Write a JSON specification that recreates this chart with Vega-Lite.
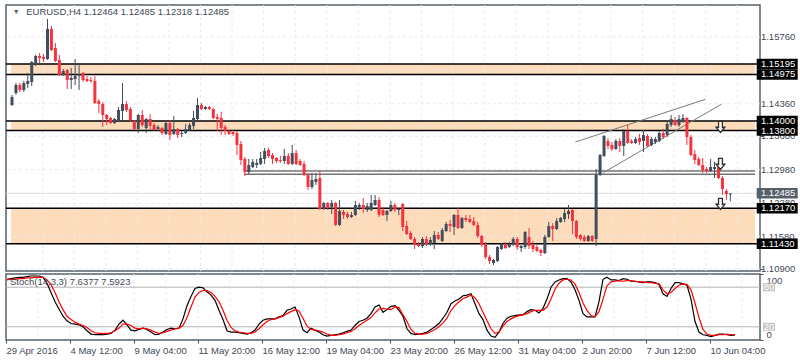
{
"$schema": "https://vega.github.io/schema/vega-lite/v6.json",
"padding": {"left": 3, "top": 3, "right": 0, "bottom": 0},
"background": "white",
"spacing": 3,
"bounds": "flush",
"config": {
  "view": {"stroke": "#56606b", "strokeWidth": 1.5},
  "font": "Liberation Sans",
  "axis": {"labelFont": "Liberation Sans", "labelFontSize": 9.5, "labelColor": "#3f4955", "tickColor": "#3f4955", "domain": false, "grid": false, "tickSize": 3, "labelOverlap": false, "labelSeparation": 0}
},
"datasets": {
  "zones": [{"lo": 1.14975, "hi": 1.15195}, {"lo": 1.138, "hi": 1.14}, {"lo": 1.1143, "hi": 1.1217}],
  "hgrid": [{"v": 1.109}, {"v": 1.1158}, {"v": 1.1228}, {"v": 1.1298}, {"v": 1.1368}, {"v": 1.1436}, {"v": 1.1506}, {"v": 1.1576}],
  "ylabels": [{"v": 1.109}, {"v": 1.1158}, {"v": 1.1228}, {"v": 1.1298}, {"v": 1.1368}, {"v": 1.1436}, {"v": 1.1576}],
  "vgrid": [{"g": 7.75}, {"g": 15.75}, {"g": 23.75}, {"g": 31.75}, {"g": 39.75}, {"g": 47.75}, {"g": 55.75}, {"g": 63.75}, {"g": 71.75}, {"g": 79.75}, {"g": 87.75}, {"g": 95.75}, {"g": 103.75}, {"g": 111.75}, {"g": 119.75}, {"g": 127.75}, {"g": 135.75}, {"g": 143.75}, {"g": 151.75}, {"g": 159.75}, {"g": 167.75}, {"g": 175.75}, {"g": 183.75}],
  "hlines": [{"p": 1.12953, "s": 58.8}, {"p": 1.12883, "s": 58.8}],
  "trend": [{"x1": 142.75, "y1": 1.1356, "x2": 175.7, "y2": 1.14455}, {"x1": 149.8, "y1": 1.12917, "x2": 179.7, "y2": 1.1435}],
  "arrows": [{"i": 179.5, "p": 1.13875}, {"i": 179.5, "p": 1.131}, {"i": 179.5, "p": 1.12262}],
  "boxes": [{"p": 1.15195, "t": "1.15195"}, {"p": 1.14975, "t": "1.14975"}, {"p": 1.14, "t": "1.14000"}, {"p": 1.138, "t": "1.13800"}, {"p": 1.1217, "t": "1.12170"}, {"p": 1.1143, "t": "1.11430"}],
  "current": [{"p": 1.12485, "t": "1.12485"}],
  "levels": [{"v": 20, "t": "20"}, {"v": 80, "t": "80"}],
  "candles": [
{"i":0,"o":1.14336,"h":1.14545,"l":1.14315,"c":1.14503},
{"i":1,"o":1.14587,"h":1.14796,"l":1.14545,"c":1.14754},
{"i":2,"o":1.14754,"h":1.14796,"l":1.14608,"c":1.1465},
{"i":3,"o":1.1465,"h":1.14838,"l":1.14608,"c":1.14796},
{"i":4,"o":1.14775,"h":1.15006,"l":1.14692,"c":1.14838},
{"i":5,"o":1.14817,"h":1.15257,"l":1.14734,"c":1.15236},
{"i":6,"o":1.15194,"h":1.15383,"l":1.15152,"c":1.15362},
{"i":7,"o":1.15362,"h":1.15425,"l":1.15215,"c":1.1532},
{"i":8,"o":1.15341,"h":1.15404,"l":1.15236,"c":1.15299},
{"i":9,"o":1.15299,"h":1.16137,"l":1.15278,"c":1.15927},
{"i":10,"o":1.15927,"h":1.1599,"l":1.15467,"c":1.15488},
{"i":11,"o":1.15529,"h":1.15634,"l":1.15236,"c":1.15257},
{"i":12,"o":1.15278,"h":1.15383,"l":1.14943,"c":1.14964},
{"i":13,"o":1.14964,"h":1.1509,"l":1.14943,"c":1.15048},
{"i":14,"o":1.15069,"h":1.1509,"l":1.14671,"c":1.14859},
{"i":15,"o":1.14859,"h":1.15111,"l":1.14671,"c":1.14901},
{"i":16,"o":1.1488,"h":1.15299,"l":1.14754,"c":1.14943},
{"i":17,"o":1.14943,"h":1.15194,"l":1.1465,"c":1.14985},
{"i":18,"o":1.15006,"h":1.15027,"l":1.14817,"c":1.14859},
{"i":19,"o":1.1488,"h":1.14943,"l":1.14817,"c":1.14838},
{"i":20,"o":1.14859,"h":1.14922,"l":1.14796,"c":1.14838},
{"i":21,"o":1.14838,"h":1.14943,"l":1.14356,"c":1.14377},
{"i":22,"o":1.14419,"h":1.14461,"l":1.14168,"c":1.14356},
{"i":23,"o":1.14356,"h":1.14398,"l":1.13875,"c":1.14126},
{"i":24,"o":1.14126,"h":1.14147,"l":1.13917,"c":1.14042},
{"i":25,"o":1.14063,"h":1.14084,"l":1.13938,"c":1.13958},
{"i":26,"o":1.13958,"h":1.14063,"l":1.13938,"c":1.14042},
{"i":27,"o":1.14021,"h":1.14294,"l":1.13979,"c":1.14231},
{"i":28,"o":1.1421,"h":1.14796,"l":1.13979,"c":1.14356},
{"i":29,"o":1.14356,"h":1.14419,"l":1.14189,"c":1.14231},
{"i":30,"o":1.14252,"h":1.14294,"l":1.13979,"c":1.14021},
{"i":31,"o":1.14,"h":1.14021,"l":1.13812,"c":1.13833},
{"i":32,"o":1.13833,"h":1.14147,"l":1.13749,"c":1.14126},
{"i":33,"o":1.14126,"h":1.14231,"l":1.13875,"c":1.13917},
{"i":34,"o":1.13854,"h":1.14063,"l":1.13749,"c":1.14042},
{"i":35,"o":1.14042,"h":1.14147,"l":1.13812,"c":1.13896},
{"i":36,"o":1.13917,"h":1.13958,"l":1.13791,"c":1.13812},
{"i":37,"o":1.13833,"h":1.13917,"l":1.13791,"c":1.13875},
{"i":38,"o":1.13854,"h":1.13875,"l":1.13707,"c":1.13749},
{"i":39,"o":1.13728,"h":1.14021,"l":1.13707,"c":1.13958},
{"i":40,"o":1.13958,"h":1.14021,"l":1.13602,"c":1.13707},
{"i":41,"o":1.13728,"h":1.14105,"l":1.13707,"c":1.13833},
{"i":42,"o":1.13833,"h":1.13854,"l":1.13644,"c":1.13707},
{"i":43,"o":1.13728,"h":1.13791,"l":1.13665,"c":1.13749},
{"i":44,"o":1.13749,"h":1.13938,"l":1.13728,"c":1.13833},
{"i":45,"o":1.13812,"h":1.13958,"l":1.13791,"c":1.13917},
{"i":46,"o":1.13896,"h":1.1421,"l":1.13833,"c":1.14063},
{"i":47,"o":1.14042,"h":1.14482,"l":1.14021,"c":1.14336},
{"i":48,"o":1.14336,"h":1.14377,"l":1.14231,"c":1.14252},
{"i":49,"o":1.14252,"h":1.14315,"l":1.14231,"c":1.14294},
{"i":50,"o":1.14294,"h":1.14315,"l":1.14231,"c":1.14252},
{"i":51,"o":1.14252,"h":1.14273,"l":1.14042,"c":1.14063},
{"i":52,"o":1.14084,"h":1.14147,"l":1.13791,"c":1.14042},
{"i":53,"o":1.14063,"h":1.14189,"l":1.13707,"c":1.13854},
{"i":54,"o":1.13875,"h":1.13917,"l":1.13707,"c":1.13791},
{"i":55,"o":1.13791,"h":1.13812,"l":1.13707,"c":1.13728},
{"i":56,"o":1.1377,"h":1.13812,"l":1.13686,"c":1.13728},
{"i":57,"o":1.13749,"h":1.13791,"l":1.13288,"c":1.13498},
{"i":58,"o":1.13519,"h":1.13581,"l":1.13079,"c":1.13183},
{"i":59,"o":1.13204,"h":1.13246,"l":1.12848,"c":1.12932},
{"i":60,"o":1.12932,"h":1.13204,"l":1.1289,"c":1.13079},
{"i":61,"o":1.13037,"h":1.13204,"l":1.13016,"c":1.13142},
{"i":62,"o":1.13079,"h":1.13204,"l":1.13016,"c":1.13121},
{"i":63,"o":1.131,"h":1.13351,"l":1.13079,"c":1.13225},
{"i":64,"o":1.13204,"h":1.13435,"l":1.131,"c":1.13372},
{"i":65,"o":1.13393,"h":1.13435,"l":1.13225,"c":1.13267},
{"i":66,"o":1.13288,"h":1.1333,"l":1.131,"c":1.13204},
{"i":67,"o":1.13225,"h":1.13246,"l":1.13121,"c":1.13162},
{"i":68,"o":1.13183,"h":1.13267,"l":1.13121,"c":1.13162},
{"i":69,"o":1.13162,"h":1.13414,"l":1.131,"c":1.13267},
{"i":70,"o":1.13267,"h":1.1333,"l":1.13079,"c":1.131},
{"i":71,"o":1.131,"h":1.13498,"l":1.13079,"c":1.1333},
{"i":72,"o":1.1333,"h":1.13393,"l":1.13079,"c":1.131},
{"i":73,"o":1.13162,"h":1.13204,"l":1.13058,"c":1.13079},
{"i":74,"o":1.131,"h":1.13162,"l":1.12848,"c":1.12869},
{"i":75,"o":1.12869,"h":1.12911,"l":1.12555,"c":1.12618},
{"i":76,"o":1.12618,"h":1.12911,"l":1.12576,"c":1.12764},
{"i":77,"o":1.12723,"h":1.12911,"l":1.1266,"c":1.12785},
{"i":78,"o":1.12806,"h":1.12953,"l":1.12136,"c":1.12157},
{"i":79,"o":1.12157,"h":1.12304,"l":1.12136,"c":1.12283},
{"i":80,"o":1.12283,"h":1.12304,"l":1.12136,"c":1.12178},
{"i":81,"o":1.12199,"h":1.12346,"l":1.12052,"c":1.12283},
{"i":82,"o":1.12283,"h":1.12304,"l":1.11801,"c":1.11822},
{"i":83,"o":1.11822,"h":1.12346,"l":1.11801,"c":1.12115},
{"i":84,"o":1.12094,"h":1.12136,"l":1.11948,"c":1.12031},
{"i":85,"o":1.12052,"h":1.12094,"l":1.11948,"c":1.11989},
{"i":86,"o":1.11989,"h":1.12094,"l":1.11969,"c":1.12031},
{"i":87,"o":1.12031,"h":1.12325,"l":1.1201,"c":1.12241},
{"i":88,"o":1.12199,"h":1.12283,"l":1.12136,"c":1.12241},
{"i":89,"o":1.12241,"h":1.12387,"l":1.12073,"c":1.12157},
{"i":90,"o":1.12136,"h":1.12283,"l":1.12094,"c":1.1222},
{"i":91,"o":1.12136,"h":1.1245,"l":1.12115,"c":1.12283},
{"i":92,"o":1.12241,"h":1.1245,"l":1.1222,"c":1.12346},
{"i":93,"o":1.12346,"h":1.12408,"l":1.11989,"c":1.12031},
{"i":94,"o":1.12136,"h":1.12199,"l":1.1201,"c":1.12031},
{"i":95,"o":1.12031,"h":1.12136,"l":1.11906,"c":1.12115},
{"i":96,"o":1.12115,"h":1.12325,"l":1.12094,"c":1.12241},
{"i":97,"o":1.12241,"h":1.12283,"l":1.12094,"c":1.12136},
{"i":98,"o":1.12136,"h":1.12178,"l":1.12031,"c":1.12157},
{"i":99,"o":1.12262,"h":1.12283,"l":1.11696,"c":1.1178},
{"i":100,"o":1.11801,"h":1.11906,"l":1.11612,"c":1.11633},
{"i":101,"o":1.11654,"h":1.11696,"l":1.11508,"c":1.11529},
{"i":102,"o":1.11529,"h":1.11571,"l":1.11319,"c":1.11403},
{"i":103,"o":1.11424,"h":1.11466,"l":1.11361,"c":1.11382},
{"i":104,"o":1.11382,"h":1.11571,"l":1.1134,"c":1.11529},
{"i":105,"o":1.11529,"h":1.11591,"l":1.11382,"c":1.11424},
{"i":106,"o":1.11424,"h":1.11571,"l":1.11382,"c":1.11508},
{"i":107,"o":1.11445,"h":1.11696,"l":1.11319,"c":1.11612},
{"i":108,"o":1.11612,"h":1.11675,"l":1.11508,"c":1.11529},
{"i":109,"o":1.11487,"h":1.11759,"l":1.11466,"c":1.11717},
{"i":110,"o":1.11696,"h":1.11885,"l":1.11675,"c":1.11843},
{"i":111,"o":1.11843,"h":1.11927,"l":1.11675,"c":1.11801},
{"i":112,"o":1.1178,"h":1.12052,"l":1.11612,"c":1.12031},
{"i":113,"o":1.12031,"h":1.12178,"l":1.11738,"c":1.11759},
{"i":114,"o":1.11759,"h":1.11989,"l":1.11738,"c":1.11969},
{"i":115,"o":1.11969,"h":1.12031,"l":1.11885,"c":1.11927},
{"i":116,"o":1.11948,"h":1.12031,"l":1.11864,"c":1.11885},
{"i":117,"o":1.11906,"h":1.11989,"l":1.11801,"c":1.11822},
{"i":118,"o":1.11822,"h":1.11885,"l":1.1155,"c":1.11591},
{"i":119,"o":1.11591,"h":1.11612,"l":1.11361,"c":1.11403},
{"i":120,"o":1.11403,"h":1.11466,"l":1.1111,"c":1.11151},
{"i":121,"o":1.11151,"h":1.11193,"l":1.11005,"c":1.11068},
{"i":122,"o":1.11026,"h":1.1111,"l":1.10984,"c":1.11089},
{"i":123,"o":1.11068,"h":1.11382,"l":1.11047,"c":1.11361},
{"i":124,"o":1.11319,"h":1.11445,"l":1.11298,"c":1.11424},
{"i":125,"o":1.11424,"h":1.11466,"l":1.11319,"c":1.1134},
{"i":126,"o":1.11361,"h":1.11466,"l":1.1134,"c":1.11424},
{"i":127,"o":1.11403,"h":1.11571,"l":1.11382,"c":1.11529},
{"i":128,"o":1.11529,"h":1.11571,"l":1.11298,"c":1.11361},
{"i":129,"o":1.1134,"h":1.11403,"l":1.11256,"c":1.11382},
{"i":130,"o":1.11361,"h":1.11696,"l":1.11319,"c":1.11675},
{"i":131,"o":1.11571,"h":1.11759,"l":1.11319,"c":1.11382},
{"i":132,"o":1.11403,"h":1.11487,"l":1.11256,"c":1.11319},
{"i":133,"o":1.11361,"h":1.11403,"l":1.11256,"c":1.11277},
{"i":134,"o":1.11298,"h":1.11319,"l":1.11172,"c":1.11235},
{"i":135,"o":1.11235,"h":1.11612,"l":1.11214,"c":1.11571},
{"i":136,"o":1.11571,"h":1.11885,"l":1.1155,"c":1.11801},
{"i":137,"o":1.11801,"h":1.11864,"l":1.11487,"c":1.11738},
{"i":138,"o":1.11738,"h":1.11969,"l":1.11717,"c":1.11906},
{"i":139,"o":1.11885,"h":1.11989,"l":1.11864,"c":1.11969},
{"i":140,"o":1.11948,"h":1.12157,"l":1.11885,"c":1.12073},
{"i":141,"o":1.12052,"h":1.12241,"l":1.11948,"c":1.12115},
{"i":142,"o":1.12136,"h":1.12157,"l":1.11633,"c":1.11906},
{"i":143,"o":1.11906,"h":1.11927,"l":1.11529,"c":1.11571},
{"i":144,"o":1.11612,"h":1.11633,"l":1.11487,"c":1.11529},
{"i":145,"o":1.11571,"h":1.11612,"l":1.11466,"c":1.11487},
{"i":146,"o":1.11487,"h":1.11612,"l":1.11466,"c":1.11591},
{"i":147,"o":1.11591,"h":1.11612,"l":1.11466,"c":1.11487},
{"i":148,"o":1.11529,"h":1.12995,"l":1.11382,"c":1.12869},
{"i":149,"o":1.12869,"h":1.13309,"l":1.12848,"c":1.13288},
{"i":150,"o":1.13267,"h":1.13707,"l":1.13246,"c":1.13686},
{"i":151,"o":1.13581,"h":1.13644,"l":1.13414,"c":1.13477},
{"i":152,"o":1.13498,"h":1.1356,"l":1.13372,"c":1.13414},
{"i":153,"o":1.13414,"h":1.13623,"l":1.13393,"c":1.13581},
{"i":154,"o":1.13581,"h":1.13644,"l":1.13351,"c":1.13477},
{"i":155,"o":1.13477,"h":1.13833,"l":1.13267,"c":1.13791},
{"i":156,"o":1.13791,"h":1.13917,"l":1.13519,"c":1.1354},
{"i":157,"o":1.13581,"h":1.13623,"l":1.13519,"c":1.1354},
{"i":158,"o":1.1354,"h":1.13665,"l":1.13519,"c":1.13623},
{"i":159,"o":1.13644,"h":1.13728,"l":1.13498,"c":1.1356},
{"i":160,"o":1.13581,"h":1.13812,"l":1.13351,"c":1.13707},
{"i":161,"o":1.13686,"h":1.13728,"l":1.13456,"c":1.13477},
{"i":162,"o":1.13498,"h":1.13665,"l":1.13477,"c":1.13623},
{"i":163,"o":1.1356,"h":1.13665,"l":1.13519,"c":1.13623},
{"i":164,"o":1.13581,"h":1.13791,"l":1.1356,"c":1.13749},
{"i":165,"o":1.13749,"h":1.13833,"l":1.13623,"c":1.13665},
{"i":166,"o":1.13707,"h":1.14021,"l":1.13665,"c":1.13938},
{"i":167,"o":1.13917,"h":1.14126,"l":1.13875,"c":1.14042},
{"i":168,"o":1.14021,"h":1.14084,"l":1.13896,"c":1.13917},
{"i":169,"o":1.13917,"h":1.14126,"l":1.13875,"c":1.14042},
{"i":170,"o":1.13979,"h":1.14147,"l":1.13958,"c":1.14063},
{"i":171,"o":1.14063,"h":1.14084,"l":1.13498,"c":1.13665},
{"i":172,"o":1.13665,"h":1.13707,"l":1.13267,"c":1.13288},
{"i":173,"o":1.13309,"h":1.13393,"l":1.131,"c":1.13183},
{"i":174,"o":1.13204,"h":1.13246,"l":1.13058,"c":1.13079},
{"i":175,"o":1.13079,"h":1.13225,"l":1.12911,"c":1.12974},
{"i":176,"o":1.12995,"h":1.13037,"l":1.12911,"c":1.12953},
{"i":177,"o":1.12953,"h":1.13204,"l":1.12932,"c":1.13037},
{"i":178,"o":1.12995,"h":1.13142,"l":1.12806,"c":1.13037},
{"i":179,"o":1.13037,"h":1.13142,"l":1.12785,"c":1.12806},
{"i":180,"o":1.12806,"h":1.12848,"l":1.1245,"c":1.12576},
{"i":181,"o":1.12534,"h":1.12576,"l":1.12346,"c":1.12471},
{"i":182,"o":1.12464,"h":1.12485,"l":1.12318,"c":1.12485}
  ],
  "stoch": [
{"i":0,"k":92,"d":91},{"i":1,"k":93,"d":92},{"i":2,"k":94,"d":92},{"i":3,"k":95,"d":93},{"i":4,"k":95,"d":93},{"i":5,"k":96,"d":94},{"i":6,"k":97,"d":94},{"i":7,"k":97,"d":95},{"i":8,"k":97,"d":95},{"i":9,"k":95,"d":95},
{"i":10,"k":86,"d":91},{"i":11,"k":72,"d":84},{"i":12,"k":58,"d":72},{"i":13,"k":47,"d":58},{"i":14,"k":36,"d":46},{"i":15,"k":29,"d":36},{"i":16,"k":25,"d":31},{"i":17,"k":24,"d":27},{"i":18,"k":23,"d":24},{"i":19,"k":20,"d":22},
{"i":20,"k":14,"d":19},{"i":21,"k":9,"d":14},{"i":22,"k":8,"d":11},{"i":23,"k":8,"d":10},{"i":24,"k":8,"d":10},{"i":25,"k":9,"d":10},{"i":26,"k":10,"d":11},{"i":27,"k":15,"d":14},{"i":28,"k":24,"d":18},{"i":29,"k":30,"d":24},
{"i":30,"k":23,"d":24},{"i":31,"k":15,"d":22},{"i":32,"k":14,"d":18},{"i":33,"k":16,"d":17},{"i":34,"k":18,"d":18},{"i":35,"k":16,"d":17},{"i":36,"k":12,"d":15},{"i":37,"k":8,"d":12},{"i":38,"k":9,"d":10},{"i":39,"k":12,"d":11},
{"i":40,"k":16,"d":13},{"i":41,"k":18,"d":15},{"i":42,"k":17,"d":17},{"i":43,"k":18,"d":18},{"i":44,"k":32,"d":22},{"i":45,"k":52,"d":34},{"i":46,"k":66,"d":50},{"i":47,"k":78,"d":65},{"i":48,"k":80,"d":72},{"i":49,"k":79,"d":75},
{"i":50,"k":73,"d":75},{"i":51,"k":68,"d":72},{"i":52,"k":60,"d":66},{"i":53,"k":45,"d":58},{"i":54,"k":31,"d":45},{"i":55,"k":14,"d":30},{"i":56,"k":12,"d":19},{"i":57,"k":12,"d":14},{"i":58,"k":11,"d":12},{"i":59,"k":10,"d":11},
{"i":60,"k":9,"d":10},{"i":61,"k":11,"d":10},{"i":62,"k":15,"d":12},{"i":63,"k":24,"d":17},{"i":64,"k":30,"d":23},{"i":65,"k":32,"d":28},{"i":66,"k":32,"d":31},{"i":67,"k":32,"d":32},{"i":68,"k":35,"d":34},{"i":69,"k":37,"d":36},
{"i":70,"k":45,"d":40},{"i":71,"k":47,"d":43},{"i":72,"k":50,"d":46},{"i":73,"k":35,"d":44},{"i":74,"k":15,"d":33},{"i":75,"k":11,"d":21},{"i":76,"k":18,"d":16},{"i":77,"k":15,"d":15},{"i":78,"k":12,"d":14},{"i":79,"k":8,"d":12},
{"i":80,"k":6,"d":9},{"i":81,"k":7,"d":7},{"i":82,"k":8,"d":7},{"i":83,"k":9,"d":8},{"i":84,"k":11,"d":9},{"i":85,"k":13,"d":11},{"i":86,"k":15,"d":13},{"i":87,"k":22,"d":17},{"i":88,"k":28,"d":22},{"i":89,"k":30,"d":26},
{"i":90,"k":33,"d":30},{"i":91,"k":40,"d":34},{"i":92,"k":50,"d":41},{"i":93,"k":53,"d":47},{"i":94,"k":42,"d":48},{"i":95,"k":46,"d":47},{"i":96,"k":51,"d":46},{"i":97,"k":52,"d":50},{"i":98,"k":45,"d":49},{"i":99,"k":36,"d":38},
{"i":100,"k":17,"d":28},{"i":101,"k":10,"d":16},{"i":102,"k":8,"d":10},{"i":103,"k":9,"d":9},{"i":104,"k":10,"d":9},{"i":105,"k":12,"d":10},{"i":106,"k":16,"d":13},{"i":107,"k":20,"d":16},{"i":108,"k":25,"d":20},{"i":109,"k":33,"d":26},
{"i":110,"k":42,"d":33},{"i":111,"k":55,"d":45},{"i":112,"k":59,"d":52},{"i":113,"k":62,"d":58},{"i":114,"k":67,"d":63},{"i":115,"k":68,"d":65},{"i":116,"k":70,"d":68},{"i":117,"k":55,"d":64},{"i":118,"k":40,"d":55},{"i":119,"k":31,"d":42},
{"i":120,"k":15,"d":29},{"i":121,"k":6,"d":17},{"i":122,"k":4,"d":10},{"i":123,"k":12,"d":12},{"i":124,"k":25,"d":21},{"i":125,"k":33,"d":28},{"i":126,"k":36,"d":32},{"i":127,"k":37,"d":35},{"i":128,"k":38,"d":37},{"i":129,"k":38,"d":38},
{"i":130,"k":43,"d":40},{"i":131,"k":46,"d":43},{"i":132,"k":45,"d":45},{"i":133,"k":41,"d":45},{"i":134,"k":48,"d":45},{"i":135,"k":62,"d":50},{"i":136,"k":80,"d":62},{"i":137,"k":88,"d":77},{"i":138,"k":91,"d":86},{"i":139,"k":93,"d":91},
{"i":140,"k":93,"d":92},{"i":141,"k":88,"d":91},{"i":142,"k":76,"d":85},{"i":143,"k":60,"d":72},{"i":144,"k":40,"d":56},{"i":145,"k":35,"d":45},{"i":146,"k":35,"d":37},{"i":147,"k":35,"d":35},{"i":148,"k":58,"d":43},{"i":149,"k":92,"d":62},
{"i":150,"k":95,"d":82},{"i":151,"k":91,"d":88},{"i":152,"k":91,"d":89},{"i":153,"k":90,"d":90},{"i":154,"k":93,"d":89},{"i":155,"k":92,"d":90},{"i":156,"k":89,"d":90},{"i":157,"k":89,"d":89},{"i":158,"k":88,"d":88},{"i":159,"k":87,"d":88},
{"i":160,"k":88,"d":87},{"i":161,"k":88,"d":87},{"i":162,"k":87,"d":86},{"i":163,"k":84,"d":85},{"i":164,"k":70,"d":76},{"i":165,"k":66,"d":70},{"i":166,"k":78,"d":72},{"i":167,"k":87,"d":78},{"i":168,"k":87,"d":83},{"i":169,"k":85,"d":85},
{"i":170,"k":83,"d":84},{"i":171,"k":62,"d":76},{"i":172,"k":28,"d":56},{"i":173,"k":12,"d":34},{"i":174,"k":8,"d":16},{"i":175,"k":7,"d":9},{"i":176,"k":5,"d":7},{"i":177,"k":7,"d":7},{"i":178,"k":9,"d":8},{"i":179,"k":9,"d":8},
{"i":180,"k":8,"d":9},{"i":181,"k":7,"d":8},{"i":182,"k":7.6377,"d":7.5923}
  ]
},
"vconcat": [
{
  "width": 754, "height": 266,
  "layer": [
    {"data": {"name": "zones"}, "mark": {"type": "rect", "color": "#fddcbc"},
     "encoding": {
       "x": {"datum": -0.25, "type": "quantitative", "scale": {"domain": [-0.25, 188.25], "nice": false, "zero": false}, "axis": null},
       "x2": {"datum": 188.25},
       "y": {"field": "lo", "type": "quantitative", "title": null, "scale": {"domain": [1.10858, 1.1643], "nice": false, "zero": false},
             "axis": {"title": null, "orient": "right", "values": [1.109, 1.1158, 1.1228, 1.1298, 1.1368, 1.1436, 1.1506, 1.1576], "labels": false, "tickSize": 3, "grid": false, "domain": false}},
       "y2": {"field": "hi"}
     }},
    {"data": {"name": "hgrid"}, "mark": {"type": "rule", "color": "#eaeaea", "strokeDash": [3, 3], "strokeWidth": 1},
     "encoding": {"y": {"field": "v", "type": "quantitative", "title": null}}},
    {"data": {"name": "vgrid"}, "mark": {"type": "rule", "color": "#eaeaea", "strokeDash": [3, 3], "strokeWidth": 1},
     "encoding": {"x": {"field": "g", "type": "quantitative", "axis": null, "title": null}}},
    {"data": {"name": "zones"}, "mark": {"type": "rule", "color": "#000000", "strokeWidth": 1.5},
     "encoding": {"y": {"field": "lo", "type": "quantitative", "title": null}}},
    {"data": {"name": "zones"}, "mark": {"type": "rule", "color": "#000000", "strokeWidth": 1.5},
     "encoding": {"y": {"field": "hi", "type": "quantitative", "title": null}}},
    {"data": {"name": "current"}, "mark": {"type": "rule", "color": "#dcdcdc", "strokeWidth": 1},
     "encoding": {"y": {"field": "p", "type": "quantitative", "title": null}}},
    {"data": {"name": "hlines"}, "mark": {"type": "rule", "color": "#747474", "strokeWidth": 1.5},
     "encoding": {
       "x": {"field": "s", "type": "quantitative", "axis": null, "title": null},
       "x2": {"datum": 188.25},
       "y": {"field": "p", "type": "quantitative", "title": null}}},
    {"data": {"name": "trend"}, "mark": {"type": "rule", "color": "#7a7a7a", "strokeWidth": 1},
     "encoding": {
       "x": {"field": "x1", "type": "quantitative", "axis": null, "title": null},
       "x2": {"field": "x2"},
       "y": {"field": "y1", "type": "quantitative", "title": null},
       "y2": {"field": "y2"}}},
    {"data": {"name": "candles"}, "mark": {"type": "rule", "strokeWidth": 1},
     "encoding": {
       "x": {"field": "i", "type": "quantitative", "axis": null, "title": null},
       "y": {"field": "l", "type": "quantitative", "title": null},
       "y2": {"field": "h"},
       "color": {"condition": {"test": "datum.c >= datum.o", "value": "#434e5c"}, "value": "#f5333f"}}},
    {"data": {"name": "candles"}, "mark": {"type": "bar", "width": 3},
     "encoding": {
       "x": {"field": "i", "type": "quantitative", "axis": null, "title": null},
       "y": {"field": "o", "type": "quantitative", "title": null},
       "y2": {"field": "c"},
       "color": {"condition": {"test": "datum.c >= datum.o", "value": "#434e5c"}, "value": "#f5333f"}}},
    {"data": {"name": "arrows"}, "mark": {"type": "point", "shape": "M-0.35,-1L0.35,-1L0.35,0.05L0.8,0.05L0,1L-0.8,0.05L-0.35,0.05Z", "size": 121, "filled": false, "stroke": "#2f2f2f", "strokeWidth": 1.3, "fill": "#ffffff", "fillOpacity": 1, "opacity": 1},
     "encoding": {
       "x": {"field": "i", "type": "quantitative", "axis": null, "title": null},
       "y": {"field": "p", "type": "quantitative", "title": null}}},
    {"data": {"values": [{}]}, "mark": {"type": "text", "text": "▼", "fontSize": 7, "color": "#56606b", "baseline": "middle", "align": "center"},
     "encoding": {
       "x": {"datum": 1.1, "type": "quantitative", "axis": null},
       "y": {"datum": 1.16284, "type": "quantitative"}}},
    {"data": {"values": [{}]}, "mark": {"type": "text", "text": "EURUSD,H4  1.12464 1.12485 1.12318 1.12485", "fontSize": 9.5, "color": "#3f4955", "baseline": "middle", "align": "left"},
     "encoding": {
       "x": {"datum": 3.6, "type": "quantitative", "axis": null},
       "y": {"datum": 1.16284, "type": "quantitative"}}},
    {"data": {"name": "ylabels"}, "mark": {"type": "text", "align": "left", "baseline": "middle", "color": "#3f4955", "fontSize": 9.5, "clip": false},
     "encoding": {
       "x": {"datum": 189.75, "type": "quantitative", "axis": null},
       "y": {"field": "v", "type": "quantitative", "title": null},
       "text": {"field": "v", "type": "quantitative", "format": ".5f"}}},
    {"data": {"name": "boxes"}, "mark": {"type": "tick", "orient": "horizontal", "size": 41, "thickness": 10.5, "color": "#000000", "opacity": 1, "clip": false},
     "encoding": {
       "x": {"datum": 193.875, "type": "quantitative", "axis": null},
       "y": {"field": "p", "type": "quantitative", "title": null}}},
    {"data": {"name": "boxes"}, "mark": {"type": "text", "align": "left", "baseline": "middle", "color": "#ffffff", "fontSize": 9.5, "clip": false},
     "encoding": {
       "x": {"datum": 189.75, "type": "quantitative", "axis": null},
       "y": {"field": "p", "type": "quantitative", "title": null},
       "text": {"field": "t"}}},
    {"data": {"name": "current"}, "mark": {"type": "tick", "orient": "horizontal", "size": 41, "thickness": 10.5, "color": "#56606b", "opacity": 1, "clip": false},
     "encoding": {
       "x": {"datum": 193.875, "type": "quantitative", "axis": null},
       "y": {"field": "p", "type": "quantitative", "title": null}}},
    {"data": {"name": "current"}, "mark": {"type": "text", "align": "left", "baseline": "middle", "color": "#ffffff", "fontSize": 9.5, "clip": false},
     "encoding": {
       "x": {"datum": 189.75, "type": "quantitative", "axis": null},
       "y": {"field": "p", "type": "quantitative", "title": null},
       "text": {"field": "t"}}}
  ]
},
{
  "width": 754, "height": 66,
  "layer": [
    {"data": {"name": "vgrid"}, "mark": {"type": "rule", "color": "#eaeaea", "strokeDash": [3, 3], "strokeWidth": 1},
     "encoding": {"x": {"field": "g", "type": "quantitative", "title": null, "scale": {"domain": [-0.25, 188.25], "nice": false, "zero": false},
       "axis": {"title": null, "orient": "bottom", "values": [-0.25, 15.75, 31.75, 47.75, 63.75, 79.75, 95.75, 111.75, 127.75, 143.75, 159.75, 175.75],
                "labelExpr": "['29 Apr 2016','4 May 12:00','9 May 04:00','11 May 20:00','16 May 12:00','19 May 04:00','23 May 20:00','26 May 12:00','31 May 04:00','2 Jun 20:00','7 Jun 12:00','10 Jun 04:00'][round((datum.value+0.25)/16)]",
                "labelAlign": "left", "labelPadding": 2, "tickSize": 3, "labelFlush": false, "labelOverlap": false, "labelBound": false, "grid": false, "domain": false}}}},
    {"data": {"name": "levels"}, "mark": {"type": "rule", "color": "#b4b4b4", "strokeWidth": 1},
     "encoding": {"y": {"field": "v", "type": "quantitative", "title": null, "scale": {"domain": [0, 100], "nice": false, "zero": false},
       "axis": {"title": null, "orient": "right", "values": [0, 100], "labelFlush": true, "labelFlushOffset": -1, "labelPadding": 3, "tickSize": 3, "grid": false, "domain": false}}}},
    {"data": {"name": "stoch"}, "mark": {"type": "line", "color": "#000000", "strokeWidth": 1.2},
     "encoding": {
       "x": {"field": "i", "type": "quantitative", "title": null},
       "y": {"field": "k", "type": "quantitative", "title": null}}},
    {"data": {"name": "stoch"}, "mark": {"type": "line", "color": "#ff0000", "strokeWidth": 1.2},
     "encoding": {
       "x": {"field": "i", "type": "quantitative", "title": null},
       "y": {"field": "d", "type": "quantitative", "title": null}}},
    {"data": {"values": [{}]}, "mark": {"type": "text", "text": "Stoch(14,3,3) 7.6377 7.5923", "fontSize": 9.5, "color": "#3f4955", "baseline": "middle", "align": "left"},
     "encoding": {
       "x": {"datum": 0.75, "type": "quantitative"},
       "y": {"datum": 88, "type": "quantitative"}}},
    {"data": {"name": "levels"}, "mark": {"type": "tick", "orient": "horizontal", "size": 12, "thickness": 8, "color": "#c4c4c4", "opacity": 1, "clip": false},
     "encoding": {
       "x": {"datum": 190.5, "type": "quantitative"},
       "y": {"field": "v", "type": "quantitative", "title": null}}},
    {"data": {"name": "levels"}, "mark": {"type": "text", "align": "center", "baseline": "middle", "color": "#ffffff", "fontSize": 9.5, "clip": false},
     "encoding": {
       "x": {"datum": 190.5, "type": "quantitative"},
       "y": {"field": "v", "type": "quantitative", "title": null},
       "text": {"field": "t"}}}
  ]
}
]
}
